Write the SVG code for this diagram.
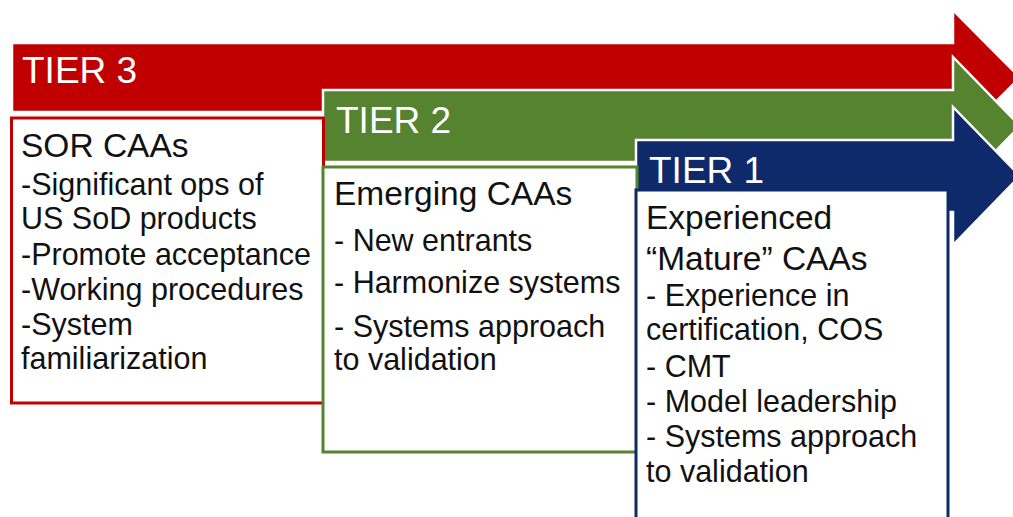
<svg xmlns="http://www.w3.org/2000/svg" width="1013" height="517" viewBox="0 0 1013 517">
<style>
.arrow{stroke:#ffffff;stroke-width:2.5;stroke-linejoin:miter}
.box{fill:#ffffff;stroke-width:3}
.tier{font-family:"Liberation Sans",Arial,sans-serif;font-size:37px;fill:#ffffff}
.head{font-family:"Liberation Sans",Arial,sans-serif;font-size:33.5px;fill:#111111}
.body{font-family:"Liberation Sans",Arial,sans-serif;font-size:30.5px;fill:#111111}
</style>
<rect x="0" y="0" width="1013" height="517" fill="#ffffff"/>
<g id="tier3">
<polygon class="arrow" fill="#C00000" points="12,43 953,43 953,10 1020,77.5 953,145 953,112 12,112"/>
<text class="tier" x="22" y="83">TIER 3</text>
</g>
<g id="tier2">
<polygon class="arrow" fill="#558330" points="323,90 953,90 953,57 1020,126 953,195 953,162 323,162"/>
<text class="tier" x="336" y="133">TIER 2</text>
</g>
<g id="tier1">
<polygon class="arrow" fill="#0E2A6B" points="636,140 953,140 953,107 1020,176 953,245 953,212 636,212"/>
<text class="tier" x="649" y="183">TIER 1</text>
</g>
<g id="tier3-box">
<rect class="box" stroke="#C00000" x="11.5" y="118" width="312" height="285"/>
<text class="head" x="21" y="157">SOR CAAs</text>
<text class="body" x="21" y="195">-Significant ops of</text>
<text class="body" x="21" y="229">US SoD products</text>
<text class="body" x="21" y="265">-Promote acceptance</text>
<text class="body" x="21" y="300">-Working procedures</text>
<text class="body" x="21" y="335">-System</text>
<text class="body" x="21" y="369">familiarization</text>
</g>
<g id="tier2-box">
<rect class="box" stroke="#558330" x="323" y="167" width="314" height="285"/>
<text class="head" x="334" y="205">Emerging CAAs</text>
<text class="body" x="334" y="251">- New entrants</text>
<text class="body" x="334" y="293">- Harmonize systems</text>
<text class="body" x="334" y="337">- Systems approach</text>
<text class="body" x="334" y="370">to validation</text>
</g>
<g id="tier1-box">
<rect class="box" stroke="#0E2A6B" x="636" y="190" width="312" height="340"/>
<text class="head" x="646" y="229">Experienced</text>
<text class="head" x="646" y="270">“Mature” CAAs</text>
<text class="body" x="646" y="306">- Experience in</text>
<text class="body" x="646" y="340">certification, COS</text>
<text class="body" x="646" y="377">- CMT</text>
<text class="body" x="646" y="412">- Model leadership</text>
<text class="body" x="646" y="447">- Systems approach</text>
<text class="body" x="646" y="482">to validation</text>
</g>
<g id="connectors"></g>
</svg>
